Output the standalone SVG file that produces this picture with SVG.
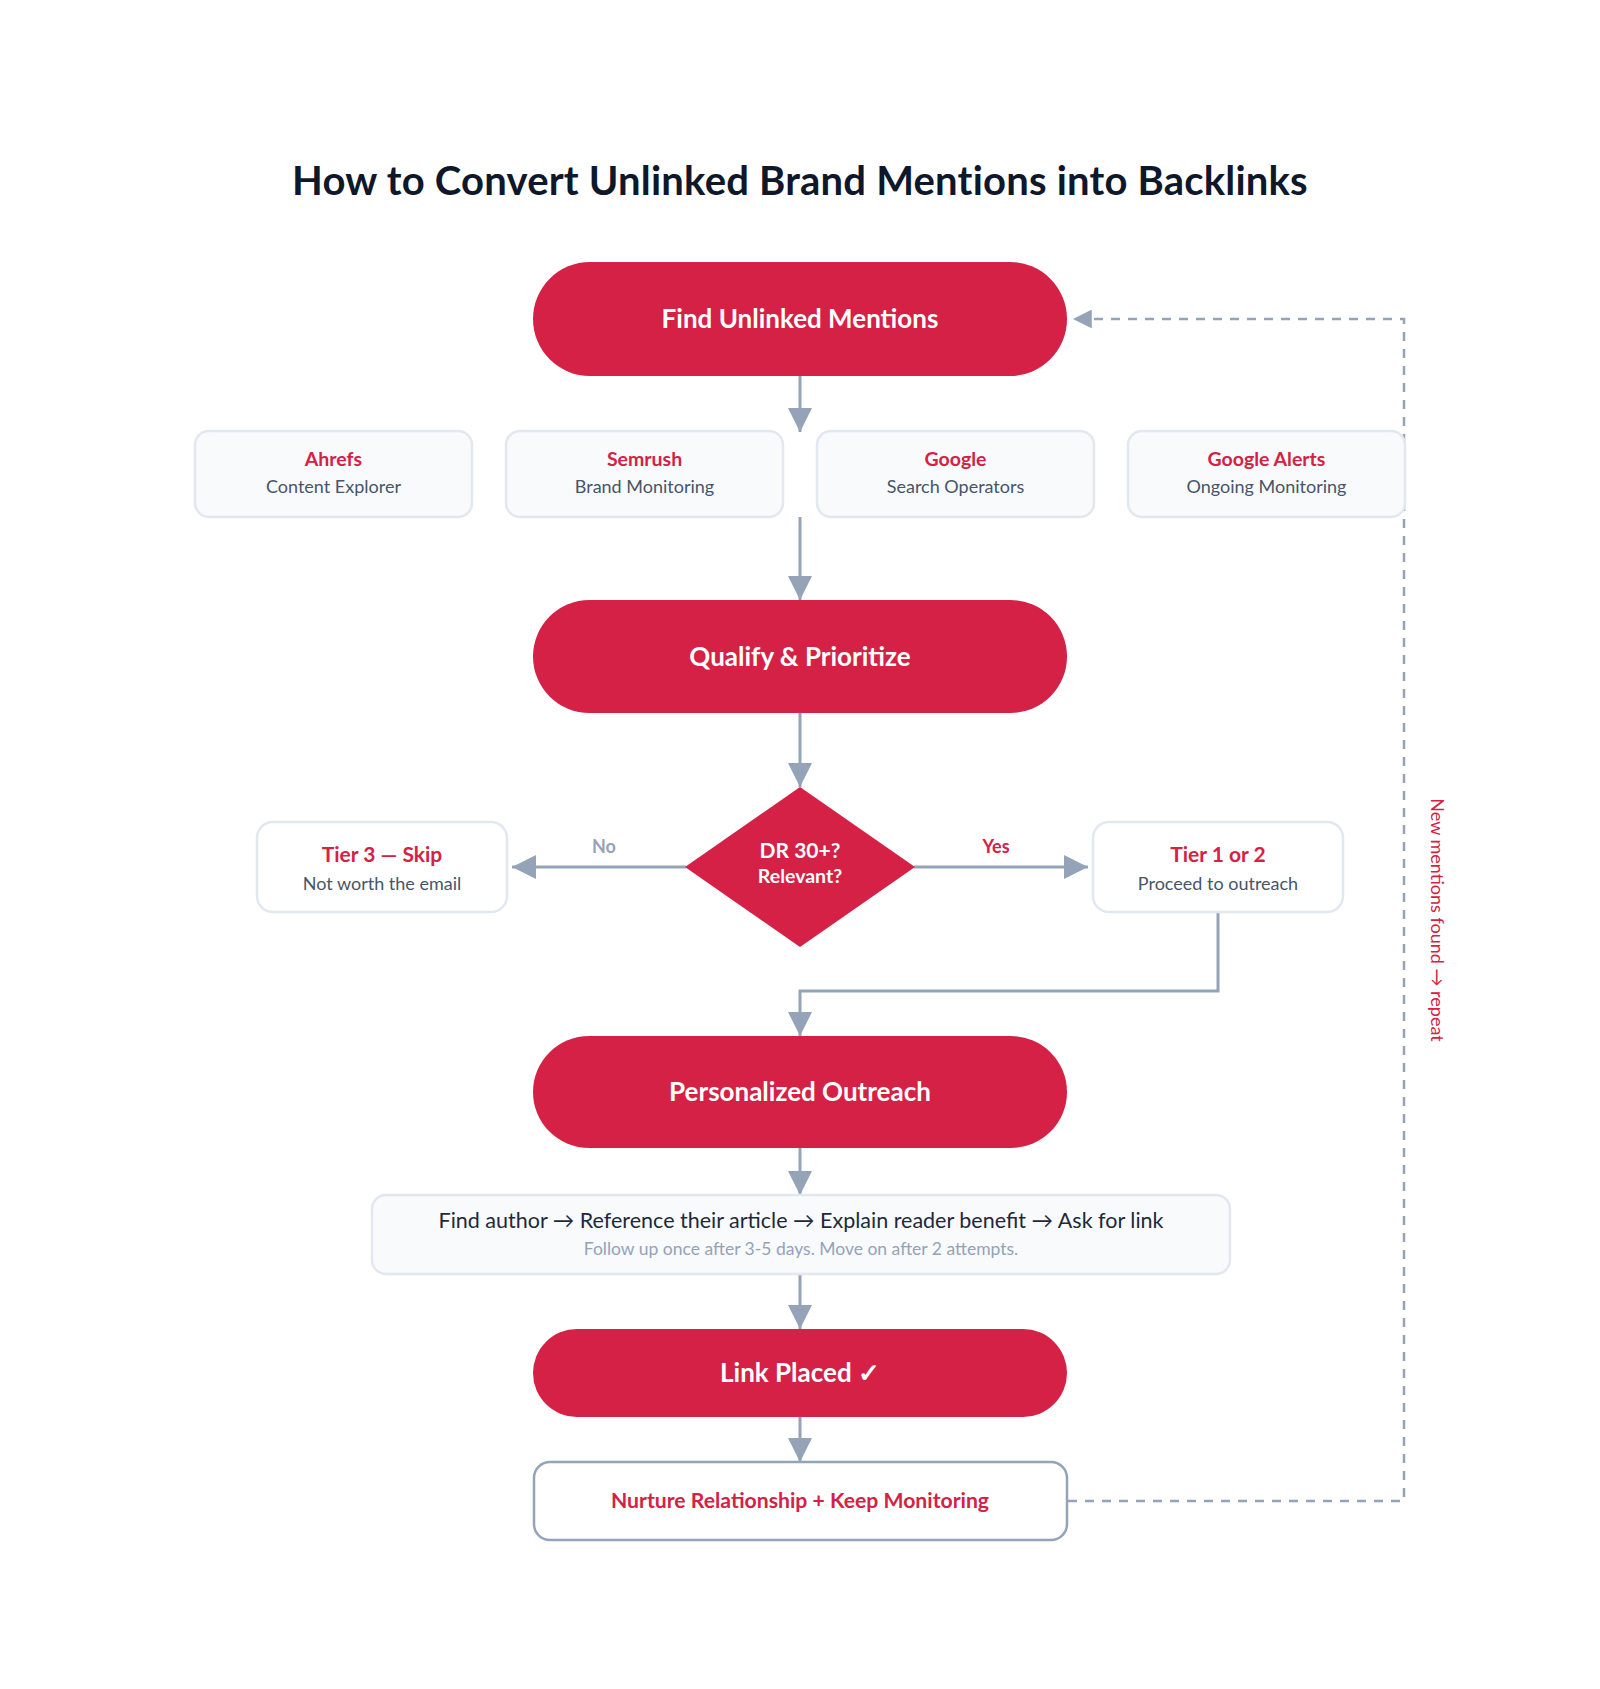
<svg xmlns="http://www.w3.org/2000/svg" width="1600" height="1689" viewBox="0 0 1600 1689">
<defs>
<style>
text{font-family:Lato,"Liberation Sans",sans-serif}
.title{font-size:40px;font-weight:700;fill:#0f172a;letter-spacing:0.2px}
.pill{fill:#d42145}
.pilltxt{font-size:26px;font-weight:700;fill:#ffffff}
.tool{fill:#f8fafc;stroke:#e2e8f0;stroke-width:2.5}
.tier{fill:#ffffff;stroke:#e2e8f0;stroke-width:2.5}
.h{font-size:19.5px;font-weight:700;fill:#d42145}
.sub{font-size:18px;fill:#475569}
.h2{font-size:21px;font-weight:700;fill:#d42145}
.lbl{font-size:18px;font-weight:700}
.conn{fill:none;stroke:#94a3b8;stroke-width:3}
.dash{fill:none;stroke:#94a3b8;stroke-width:2.5;stroke-dasharray:9 8}
</style>
<marker id="ah" viewBox="0 0 8 8" refX="8" refY="4" markerWidth="8" markerHeight="8" orient="auto" markerUnits="strokeWidth">
<path d="M0,0 L8,4 L0,8 Z" fill="#94a3b8"/>
</marker>
<marker id="ahd" viewBox="0 0 8 8" refX="8" refY="4" markerWidth="7.5" markerHeight="7.5" orient="auto" markerUnits="strokeWidth">
<path d="M0,0 L8,4 L0,8 Z" fill="#94a3b8"/>
</marker>
</defs>
<rect width="1600" height="1689" fill="#ffffff"/>
<text class="title" x="800" y="195" text-anchor="middle">How to Convert Unlinked Brand Mentions into Backlinks</text>

<g id="connectors">
<path class="conn" d="M800,376 L800,432" marker-end="url(#ah)"/>
<path class="conn" d="M800,517 L800,600" marker-end="url(#ah)"/>
<path class="conn" d="M800,713 L800,787" marker-end="url(#ah)"/>
<path class="conn" d="M686,867 L512,867" marker-end="url(#ah)"/>
<path class="conn" d="M914,867 L1088,867" marker-end="url(#ah)"/>
<path class="conn" d="M1218,912 L1218,991 L800,991 L800,1036" marker-end="url(#ah)"/>
<path class="conn" d="M800,1148 L800,1195" marker-end="url(#ah)"/>
<path class="conn" d="M800,1274 L800,1329" marker-end="url(#ah)"/>
<path class="conn" d="M800,1417 L800,1462" marker-end="url(#ah)"/>
<path class="dash" d="M1068,1501 L1404,1501 L1404,319 L1073,319" marker-end="url(#ahd)"/>
<text class="lbl" x="604" y="853" text-anchor="middle" fill="#94a3b8">No</text>
<text class="lbl" x="996" y="853" text-anchor="middle" fill="#d42145">Yes</text>
<text x="1431" y="920" text-anchor="middle" transform="rotate(90 1431 920)" font-size="18" fill="#d42145">New mentions found → repeat</text>
</g>

<g id="find">
<rect class="pill" x="533" y="262" width="534" height="114" rx="57"/>
<text class="pilltxt" x="800" y="328" text-anchor="middle">Find Unlinked Mentions</text>
</g>
<g id="tool-ahrefs">
<rect class="tool" x="195" y="431" width="277" height="86" rx="14"/>
<text class="h" x="333.5" y="466" text-anchor="middle">Ahrefs</text>
<text class="sub" x="333.5" y="493" text-anchor="middle">Content Explorer</text>
</g>
<g id="tool-semrush">
<rect class="tool" x="506" y="431" width="277" height="86" rx="14"/>
<text class="h" x="644.5" y="466" text-anchor="middle">Semrush</text>
<text class="sub" x="644.5" y="493" text-anchor="middle">Brand Monitoring</text>
</g>
<g id="tool-google">
<rect class="tool" x="817" y="431" width="277" height="86" rx="14"/>
<text class="h" x="955.5" y="466" text-anchor="middle">Google</text>
<text class="sub" x="955.5" y="493" text-anchor="middle">Search Operators</text>
</g>
<g id="tool-alerts">
<rect class="tool" x="1128" y="431" width="277" height="86" rx="14"/>
<text class="h" x="1266.5" y="466" text-anchor="middle">Google Alerts</text>
<text class="sub" x="1266.5" y="493" text-anchor="middle">Ongoing Monitoring</text>
</g>
<g id="qualify">
<rect class="pill" x="533" y="600" width="534" height="113" rx="56.5"/>
<text class="pilltxt" x="800" y="666" text-anchor="middle">Qualify &amp; Prioritize</text>
</g>
<g id="decision">
<path class="pill" d="M800,787 L915,867 L800,947 L685,867 Z"/>
<text x="800" y="858" text-anchor="middle" font-size="21" font-weight="700" fill="#ffffff">DR 30+?</text>
<text x="800" y="883" text-anchor="middle" font-size="19.5" font-weight="700" fill="#ffffff">Relevant?</text>
</g>
<g id="tier3">
<rect class="tier" x="257" y="822" width="250" height="90" rx="16"/>
<text class="h2" x="382" y="862" text-anchor="middle">Tier 3 — Skip</text>
<text class="sub" x="382" y="890" text-anchor="middle">Not worth the email</text>
</g>
<g id="tier12">
<rect class="tier" x="1093" y="822" width="250" height="90" rx="16"/>
<text class="h2" x="1218" y="862" text-anchor="middle">Tier 1 or 2</text>
<text class="sub" x="1218" y="890" text-anchor="middle">Proceed to outreach</text>
</g>
<g id="outreach">
<rect class="pill" x="533" y="1036" width="534" height="112" rx="56"/>
<text class="pilltxt" x="800" y="1101" text-anchor="middle" font-size="26.5">Personalized Outreach</text>
</g>
<g id="steps">
<rect class="tool" x="372" y="1195" width="858" height="79" rx="14"/>
<text x="801" y="1228" text-anchor="middle" font-size="21.5" fill="#1e293b">Find author → Reference their article → Explain reader benefit → Ask for link</text>
<text x="801" y="1255" text-anchor="middle" font-size="17.5" fill="#94a3b8">Follow up once after 3-5 days. Move on after 2 attempts.</text>
</g>
<g id="placed">
<rect class="pill" x="533" y="1329" width="534" height="88" rx="44"/>
<text class="pilltxt" x="800" y="1382" text-anchor="middle">Link Placed ✓</text>
</g>
<g id="nurture">
<rect x="534" y="1462" width="533" height="78" rx="16" fill="#ffffff" stroke="#94a3b8" stroke-width="2.5"/>
<text x="800" y="1508" text-anchor="middle" font-size="21.2" font-weight="700" fill="#d42145">Nurture Relationship + Keep Monitoring</text>
</g>
</svg>
